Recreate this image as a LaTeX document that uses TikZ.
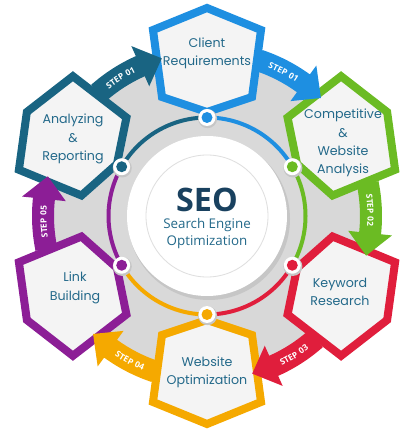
\documentclass[tikz,border=0pt]{standalone}
\usepackage{fontspec}
\usetikzlibrary{decorations.text,shadows}
\newfontfamily\hexfont{Poppins}
\newfontfamily\seofont{Open Sans}
\newfontfamily\stepfont[LetterSpace=8]{Open Sans}
\definecolor{cblue}{HTML}{1E8FE1}
\definecolor{cgreen}{HTML}{6BBB23}
\definecolor{cred}{HTML}{E01E3C}
\definecolor{corange}{HTML}{F5A900}
\definecolor{cpurple}{HTML}{8C1E96}
\definecolor{cteal}{HTML}{196482}
\definecolor{txtblue}{HTML}{23698A}
\definecolor{seoblue}{HTML}{19415F}
\definecolor{hexfill}{HTML}{F4F4F4}
\pgfdeclareradialshading{discshade}{\pgfpoint{0bp}{0bp}}{color(0bp)=(gray!32); color(30bp)=(gray!30); color(40bp)=(gray!20); color(50bp)=(gray!6)}
\pgfdeclareradialshading{innershade}{\pgfpoint{0bp}{0bp}}{color(0bp)=(white); color(35bp)=(white); color(50bp)=(gray!12)}

\begin{document}
\begin{tikzpicture}[x=0.025cm,y=0.025cm,
  hexa/.style={line width=0.2cm, line join=miter, fill=hexfill,
    drop shadow={shadow xshift=0.6pt,shadow yshift=-1pt,opacity=0.2}},
  ring/.style={line width=0.1cm},
  hexlabel/.style={font=\hexfont\fontsize{9}{13}\selectfont, text=txtblue, align=center},
  steptext/.style={decorate, decoration={text along path, text align=center,
    text color=white, text={|\stepfont\fontsize{6}{7}\bfseries|#1}}}]
  \useasboundingbox (-207,-215) rectangle (199,216);

  % Grey disc behind
  \shade[shading=discshade] (0,0) circle[radius=165];
  \fill[gray!30] (0,0) circle[radius=97];
  \fill[gray!45] (2,-3) circle[radius=81];
  \fill[white] (0,0) circle[radius=80];
  \shade[shading=innershade] (0,0) circle[radius=61];
  \draw[gray!25, line width=0.6pt] (0,0) circle[radius=61];

  % Coloured ring
  \draw[ring,cblue] (90:98.5) arc[start angle=90, end angle=30, radius=98.5];
  \draw[ring,cgreen] (30:98.5) arc[start angle=30, end angle=-30, radius=98.5];
  \draw[ring,cred] (-30:98.5) arc[start angle=-30, end angle=-90, radius=98.5];
  \draw[ring,corange] (-90:98.5) arc[start angle=-90, end angle=-150, radius=98.5];
  \draw[ring,cpurple] (-150:98.5) arc[start angle=-150, end angle=-210, radius=98.5];
  \draw[ring,cteal] (150:98.5) arc[start angle=150, end angle=90, radius=98.5];

  % Hexagons
  \begin{scope}[shift={(90:156)}, rotate=0]
    \draw[hexa,draw=cblue] (0,52) -- (54,30) -- (45,-37) -- (0,-52) -- (-45,-37) -- (-54,30) -- cycle;
  \end{scope}
  \begin{scope}[shift={(30:156)}, rotate=-60]
    \draw[hexa,draw=cgreen] (0,52) -- (54,30) -- (45,-37) -- (0,-52) -- (-45,-37) -- (-54,30) -- cycle;
  \end{scope}
  \begin{scope}[shift={(-30:156)}, rotate=-120]
    \draw[hexa,draw=cred] (0,52) -- (54,30) -- (45,-37) -- (0,-52) -- (-45,-37) -- (-54,30) -- cycle;
  \end{scope}
  \begin{scope}[shift={(-90:156)}, rotate=180]
    \draw[hexa,draw=corange] (0,52) -- (54,30) -- (45,-37) -- (0,-52) -- (-45,-37) -- (-54,30) -- cycle;
  \end{scope}
  \begin{scope}[shift={(-150:156)}, rotate=120]
    \draw[hexa,draw=cpurple] (0,52) -- (54,30) -- (45,-37) -- (0,-52) -- (-45,-37) -- (-54,30) -- cycle;
  \end{scope}
  \begin{scope}[shift={(150:156)}, rotate=60]
    \draw[hexa,draw=cteal] (0,52) -- (54,30) -- (45,-37) -- (0,-52) -- (-45,-37) -- (-54,30) -- cycle;
  \end{scope}

  % Dots on the ring
  \fill[gray!45] (90:98.5) ++(0.6,-1.2) circle[radius=9.5];
  \fill[white] (90:98.5) circle[radius=8.5];
  \fill[cblue] (90:98.5) circle[radius=5.5];
  \fill[gray!45] (30:98.5) ++(0.6,-1.2) circle[radius=9.5];
  \fill[white] (30:98.5) circle[radius=8.5];
  \fill[cgreen] (30:98.5) circle[radius=5.5];
  \fill[gray!45] (-30:98.5) ++(0.6,-1.2) circle[radius=9.5];
  \fill[white] (-30:98.5) circle[radius=8.5];
  \fill[cred] (-30:98.5) circle[radius=5.5];
  \fill[gray!45] (-90:98.5) ++(0.6,-1.2) circle[radius=9.5];
  \fill[white] (-90:98.5) circle[radius=8.5];
  \fill[corange] (-90:98.5) circle[radius=5.5];
  \fill[gray!45] (-150:98.5) ++(0.6,-1.2) circle[radius=9.5];
  \fill[white] (-150:98.5) circle[radius=8.5];
  \fill[cpurple] (-150:98.5) circle[radius=5.5];
  \fill[gray!45] (150:98.5) ++(0.6,-1.2) circle[radius=9.5];
  \fill[white] (150:98.5) circle[radius=8.5];
  \fill[cteal] (150:98.5) circle[radius=5.5];

  % Step arrows
  \fill[cteal] (131.5:175) arc[start angle=131.5, end angle=114, radius=175] -- (114:186) -- (106:164)
    -- (114:142) -- (114:153) arc[start angle=114, end angle=131.5, radius=153] -- cycle;
  \fill[cblue] (71.5:175) arc[start angle=71.5, end angle=54, radius=175] -- (54:186) -- (46:164)
    -- (54:142) -- (54:153) arc[start angle=54, end angle=71.5, radius=153] -- cycle;
  \fill[cgreen] (11.5:175) arc[start angle=11.5, end angle=-6, radius=175] -- (-6:186) -- (-14:164)
    -- (-6:142) -- (-6:153) arc[start angle=-6, end angle=11.5, radius=153] -- cycle;
  \fill[cred] (-48.5:175) arc[start angle=-48.5, end angle=-66, radius=175] -- (-66:186) -- (-74:164)
    -- (-66:142) -- (-66:153) arc[start angle=-66, end angle=-48.5, radius=153] -- cycle;
  \fill[corange] (-108.5:175) arc[start angle=-108.5, end angle=-126, radius=175] -- (-126:186) -- (-134:164)
    -- (-126:142) -- (-126:153) arc[start angle=-126, end angle=-108.5, radius=153] -- cycle;
  \fill[cpurple] (-168.5:175) arc[start angle=-168.5, end angle=-186, radius=175] -- (-186:186) -- (-194:164)
    -- (-186:142) -- (-186:153) arc[start angle=-186, end angle=-168.5, radius=153] -- cycle;

  % Step labels
  \path[steptext={STEP 01}] (136:160.5) arc[start angle=136, end angle=108, radius=160.5];
  \path[steptext={STEP 01}] (76:160.5) arc[start angle=76, end angle=48, radius=160.5];
  \path[steptext={STEP 02}] (16:160.5) arc[start angle=16, end angle=-12, radius=160.5];
  \path[steptext={STEP 03}] (-72:167.5) arc[start angle=-72, end angle=-44, radius=167.5];
  \path[steptext={STEP 04}] (-132:167.5) arc[start angle=-132, end angle=-104, radius=167.5];
  \path[steptext={STEP 05}] (-164:160.5) arc[start angle=-164, end angle=-192, radius=160.5];

  % Texts
  \node[hexlabel] (client) at (0,163) {Client\\Requirements};
  \node[hexlabel] (compet) at (136,73) {Competitive\\\&\\Website\\Analysis};
  \node[hexlabel] (keyword) at (133,-76) {Keyword\\Research};
  \node[hexlabel] (website) at (0,-156) {Website\\Optimization};
  \node[hexlabel] (link) at (-132,-72) {Link\\Building};
  \node[hexlabel] (analyz) at (-134,77) {Analyzing\\\&\\Reporting};

  \node[anchor=base, font=\seofont\bfseries\fontsize{23}{25}\selectfont, text=seoblue] (seo) at (0,4) {SEO};
  \node[anchor=base, font=\seofont\fontsize{9.5}{11}\selectfont, text=txtblue] (seoa) at (0,-13) {Search Engine};
  \node[anchor=base, font=\seofont\fontsize{9.5}{11}\selectfont, text=txtblue] (seob) at (0,-30) {Optimization};
\end{tikzpicture}
\end{document}
